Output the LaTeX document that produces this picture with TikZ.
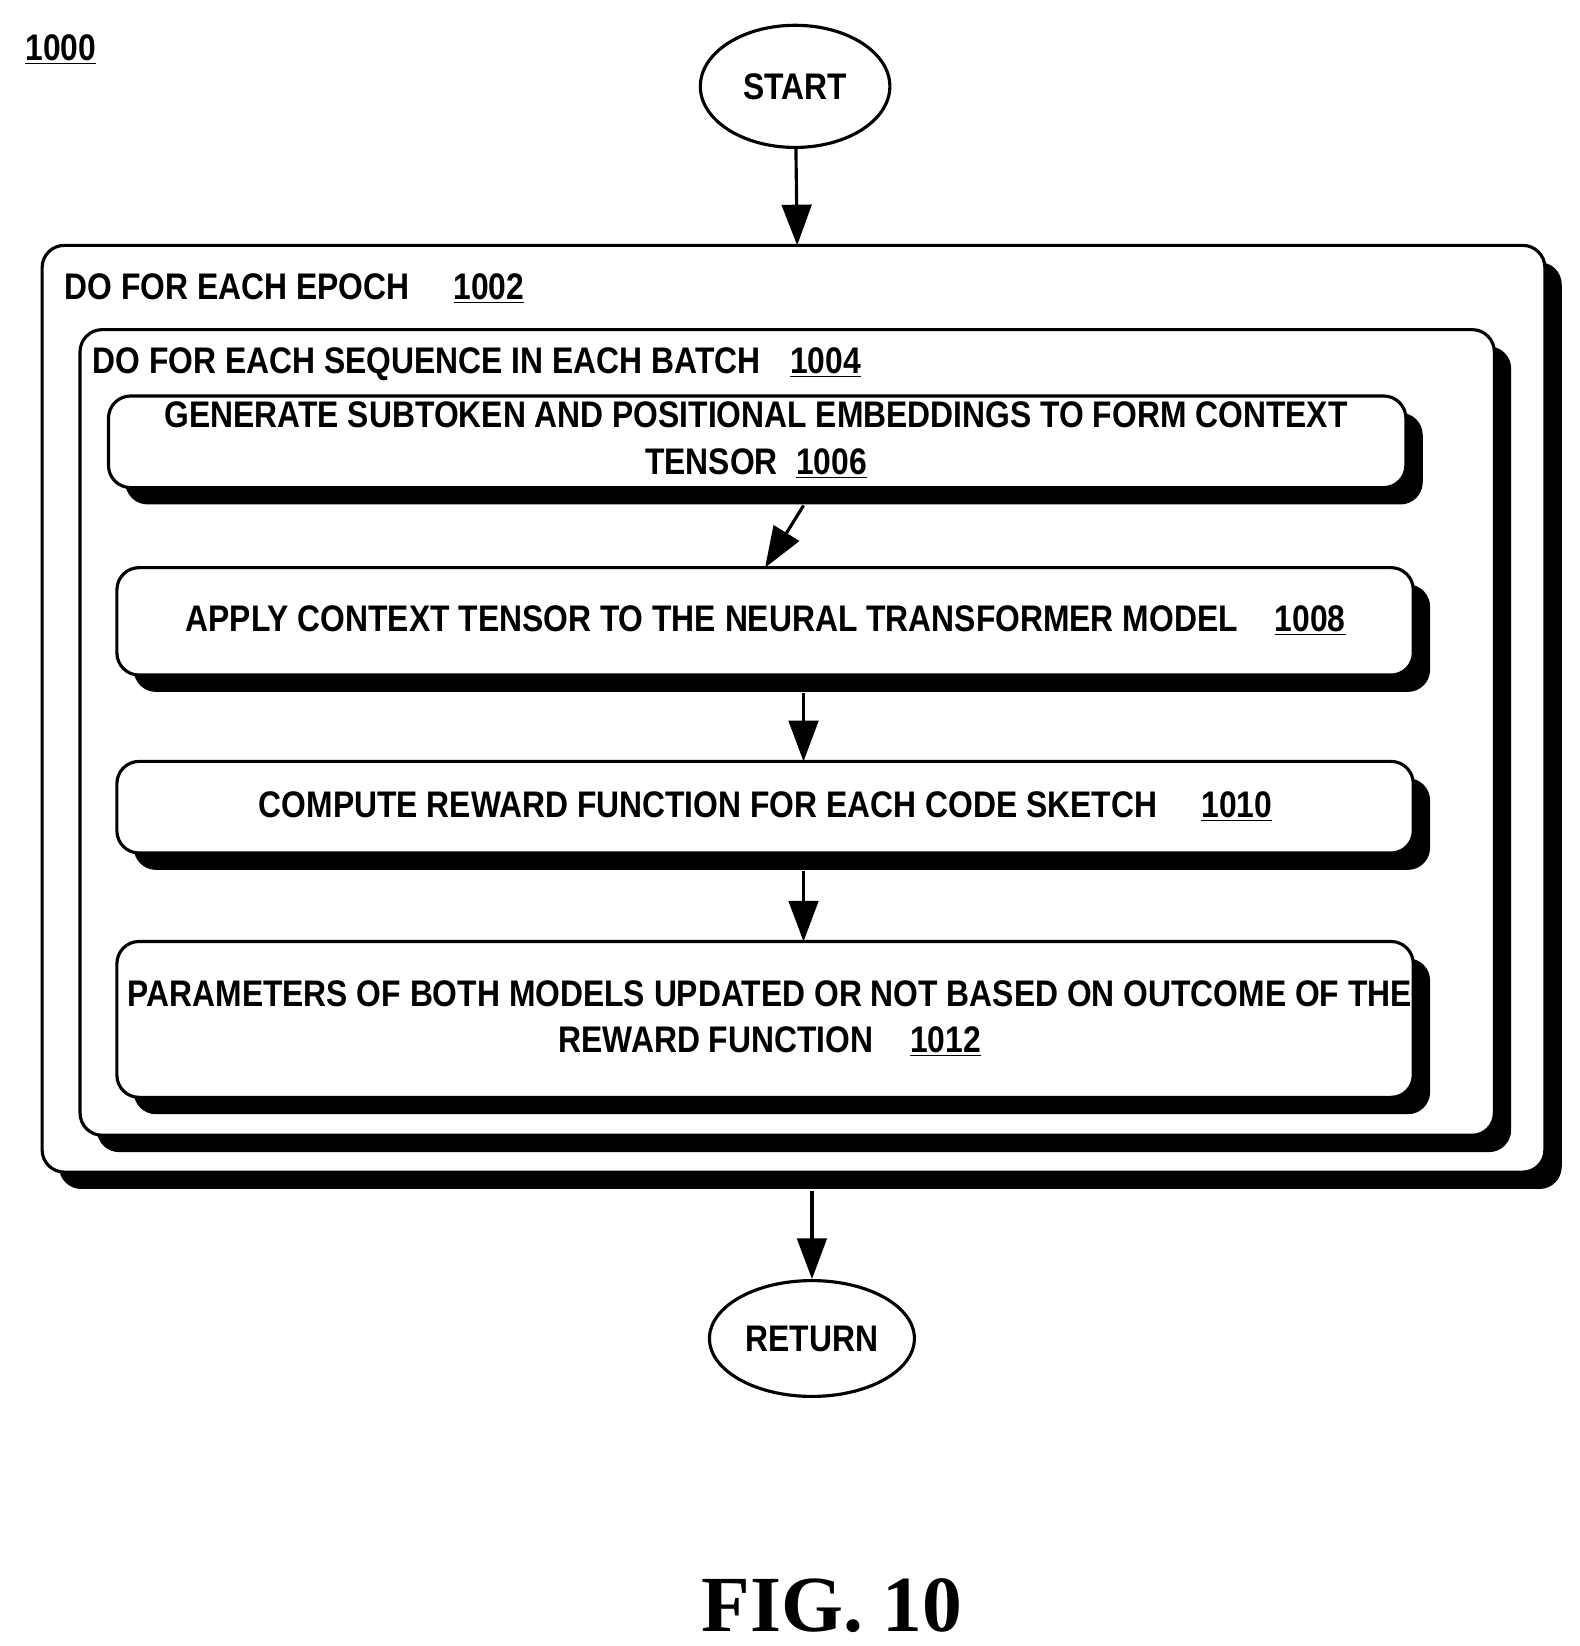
\documentclass[tikz,border=0pt]{standalone}
\usepackage{fontspec}
\setmainfont{Liberation Sans}[FakeStretch=0.86]
\newfontfamily\figfont{Liberation Serif}
\usetikzlibrary{shapes.geometric,arrows.meta}
\begin{document}
\begin{tikzpicture}[x=0.02cm,y=-0.02cm,
  every node/.style={font=\fontsize{20}{25}\selectfont\bfseries},
  lw/.style={line width=1.7pt},
  box/.style={lw,rounded corners=12pt,fill=white},
  shad/.style={rounded corners=12pt,fill=black},
  arr/.style={lw,-{Triangle[length=22pt,width=16pt]}},
  term/.style={ellipse,draw,lw,minimum width=180\pgflinewidth,inner sep=0pt}]
\useasboundingbox (0,0) rectangle (1500,1563);
\newcommand\mybox[5]{%
  \fill[shad] (#1+16,#2+16) rectangle (#3+16,#4+16);
  \draw[box] (#1,#2) rectangle (#3,#4);
  \coordinate (#5n) at ({(#1+#3)/2},#2);
  \coordinate (#5s) at ({(#1+#3)/2},#4);}
\node[anchor=west] (lbl) at (18,47) {\underline{1000}};
\node[ellipse,draw,lw,minimum width=180*0.02cm,minimum height=116*0.02cm] (start) at (755,82) {START};
\mybox{40}{233}{1467}{1113}{b1002}
\node[anchor=west] (t1002) at (55,274) {DO FOR EACH EPOCH\hspace{1.2em}\underline{1002}};
\mybox{76}{313}{1419}{1078}{b1004}
\node[anchor=west] (t1004) at (82,346) {DO FOR EACH SEQUENCE IN EACH BATCH\hspace{0.8em}\underline{1004}};
\mybox{103}{376}{1335}{463}{b1006}
\node[align=center] (t1006) at (718,418) {GENERATE SUBTOKEN AND POSITIONAL EMBEDDINGS TO FORM CONTEXT\\TENSOR\hspace{0.5em}\underline{1006}};
\mybox{111}{539}{1342}{641}{b1008}
\node (t1008) at (727,589) {APPLY CONTEXT TENSOR TO THE NEURAL TRANSFORMER MODEL\hspace{1em}\underline{1008}};
\mybox{111}{723}{1342}{810}{b1010}
\node (t1010) at (727,766) {COMPUTE REWARD FUNCTION FOR EACH CODE SKETCH\hspace{1.2em}\underline{1010}};
\mybox{111}{894}{1342}{1042}{b1012}
\node[align=center] (t1012) at (731,967) {PARAMETERS OF BOTH MODELS UPDATED OR NOT BASED ON OUTCOME OF THE\\REWARD FUNCTION\hspace{1em}\underline{1012}};
\node[ellipse,draw,lw,minimum width=180*0.02cm,minimum height=110*0.02cm] (ret) at (771,1271) {RETURN};
\coordinate (a1) at (757,143);
\draw[arr] (start) -- (757,233);
\draw[arr] (763,480) -- (b1008n);
\draw[arr] (763,658) -- (763,723);
\draw[arr] (763,827) -- (763,894);
\draw[arr] (771,1131) -- (ret);
\node (fig) at (790,1525) {\figfont\fontsize{43}{50}\selectfont\bfseries FIG. 10};
\end{tikzpicture}
\end{document}
